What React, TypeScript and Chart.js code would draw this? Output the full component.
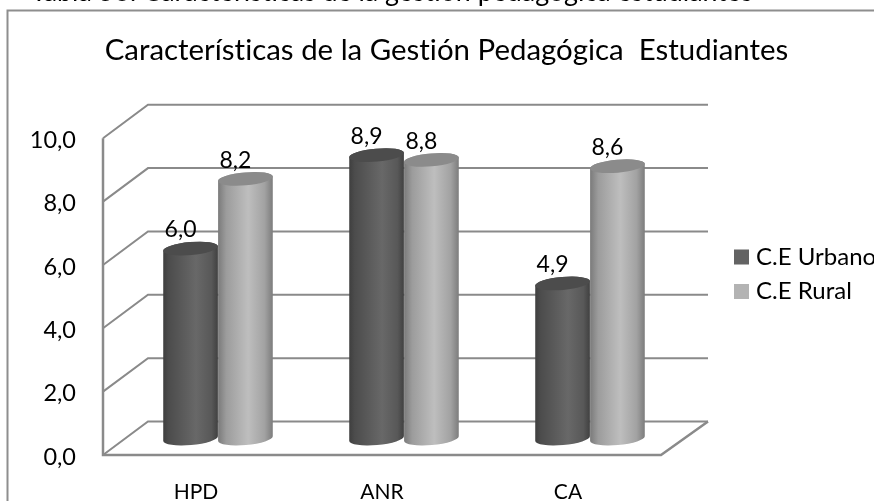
import React, { useEffect, useRef } from "react";
import { Chart, registerables } from "chart.js";

Chart.register(...registerables);

const caption = "Tabla 56: Características de la gestión pedagógica estudiantes";
const titleText = "Características de la Gestión Pedagógica  Estudiantes";
const categories = ["HPD", "ANR", "CA"];
const urbano = [6.0, 8.95, 4.9];
const rural = [8.2, 8.8, 8.6];
const urbanoLabels = ["6,0", "8,9", "4,9"];
const ruralLabels = ["8,2", "8,8", "8,6"];
const seriesNames = ["C.E Urbano", "C.E Rural"];
const legendColors = ["#636363", "#b3b3b3"];
const darkStops: [number, string][] = [[0, "#3e3e3e"], [0.1, "#4c4c4c"], [0.6, "#686868"], [0.88, "#585858"], [1, "#404040"]];
const lightStops: [number, string][] = [[0, "#7a7a7a"], [0.15, "#9c9c9c"], [0.55, "#bebebe"], [0.85, "#a2a2a2"], [1, "#7c7c7c"]];
const capColors = ["#4c4c4c", "#8b8b8b"];
const FONT = "Lato, Carlito, sans-serif";
const WALL_DX = 45;
const WALL_DY = 33.5;
const BAR_DX = 22;
const BAR_DY = 14;

const scene = {
  id: "scene",
  beforeDraw(chart: any) {
    const ctx = chart.ctx;
    ctx.letterSpacing = "0.01px";
    ctx.save();
    ctx.strokeStyle = "#8e8e8e";
    ctx.lineWidth = 2;
    ctx.beginPath();
    ctx.moveTo(7.5, 501);
    ctx.lineTo(7.5, 10.5);
    ctx.lineTo(874, 10.5);
    ctx.stroke();
    ctx.fillStyle = "#000";
    ctx.font = `26.8px ${FONT}`;
    ctx.textBaseline = "alphabetic";
    ctx.textAlign = "left";
    ctx.fillText(caption, 31, 1);
    ctx.restore();
  },
  beforeDatasetsDraw(chart: any) {
    const { ctx, chartArea, scales } = chart;
    const { left, right, bottom } = chartArea;
    ctx.save();
    ctx.strokeStyle = "#8a8a8a";
    ctx.lineWidth = 2;
    scales.y.ticks.forEach((t: any) => {
      const y = scales.y.getPixelForValue(t.value);
      ctx.beginPath();
      ctx.moveTo(left, y);
      ctx.lineTo(left + WALL_DX, y - WALL_DY);
      ctx.lineTo(right + WALL_DX + 2, y - WALL_DY);
      ctx.stroke();
    });
    ctx.lineWidth = 2.5;
    ctx.beginPath();
    ctx.moveTo(left, scales.y.top);
    ctx.lineTo(left, bottom);
    ctx.lineTo(right, bottom);
    ctx.lineTo(right + WALL_DX + 2, bottom - WALL_DY);
    ctx.stroke();
    ctx.restore();
  },
  beforeDatasetDraw(chart: any, args: any) {
    const ctx = chart.ctx;
    const stops = args.index === 0 ? darkStops : lightStops;
    const rot = (-5 * Math.PI) / 180;
    const ry = 6.5;
    args.meta.data.forEach((el: any) => {
      const cx = el.x + BAR_DX;
      const rx = el.width / 2;
      const topY = el.y - BAR_DY - 2.4;
      const baseY = el.base - BAR_DY - 2.4;
      const g = ctx.createLinearGradient(cx - rx, 0, cx + rx, 0);
      stops.forEach(([o, c]) => g.addColorStop(o, c));
      ctx.save();
      ctx.fillStyle = g;
      ctx.beginPath();
      ctx.ellipse(cx, topY, rx, ry, rot, Math.PI, 0, false);
      ctx.ellipse(cx, baseY, rx, ry, rot, 0, Math.PI, false);
      ctx.closePath();
      ctx.fill();
      ctx.fillStyle = capColors[args.index];
      ctx.beginPath();
      ctx.ellipse(cx, topY, rx, ry, rot, 0, Math.PI * 2);
      ctx.fill();
      ctx.restore();
    });
    return false;
  },
  afterDatasetsDraw(chart: any) {
    const ctx = chart.ctx;
    ctx.save();
    ctx.fillStyle = "#000";
    ctx.font = `23px ${FONT}`;
    ctx.textAlign = "center";
    ctx.textBaseline = "middle";
    [urbanoLabels, ruralLabels].forEach((labels, d) => {
      chart.getDatasetMeta(d).data.forEach((el: any, i: number) => {
        ctx.fillText(labels[i], el.x + BAR_DX - 10, el.y - BAR_DY - 21);
      });
    });
    const lx = 734;
    const ly = [257, 291.5];
    ctx.textAlign = "left";
    ctx.font = `24px ${FONT}`;
    chart.data.datasets.forEach((ds: any, d: number) => {
      ctx.fillStyle = legendColors[d];
      ctx.fillRect(lx, ly[d] - 7.5, 15, 15);
      ctx.fillStyle = "#000";
      ctx.fillText(ds.label, lx + 22, ly[d]);
    });
    ctx.restore();
  },
};

export default function App() {
  const ref = useRef<HTMLCanvasElement>(null);
  useEffect(() => {
    document.body.style.margin = "0";
    const chart = new Chart(ref.current as HTMLCanvasElement, {
      type: "bar",
      data: {
        labels: categories,
        datasets: [
          { label: seriesNames[0], data: urbano, backgroundColor: legendColors[0] },
          { label: seriesNames[1], data: rural, backgroundColor: legendColors[1] },
        ],
      },
      options: {
        responsive: false,
        animation: false,
        layout: { padding: { left: 19, top: 0, right: 0, bottom: 0 } },
        datasets: { bar: { categoryPercentage: 0.59, barPercentage: 1 } },
        plugins: {
          legend: { display: false },
          tooltip: { enabled: false },
          title: {
            display: true,
            text: titleText,
            color: "#000",
            font: { family: FONT, size: 29.4, weight: "normal" },
            padding: { top: 33, bottom: 70 },
          },
        },
        scales: {
          x: {
            grid: { display: false },
            border: { display: false },
            ticks: { color: "#000", font: { family: FONT, size: 21 }, padding: 17, maxRotation: 0 },
            afterFit(s: any) { s.height = 46; },
          },
          y: {
            min: 0,
            max: 10,
            grid: { display: false, drawTicks: false },
            border: { display: false },
            ticks: {
              stepSize: 2,
              color: "#000",
              font: { family: FONT, size: 23.5 },
              padding: 27,
              labelOffset: 2,
              callback: (v: any) => Number(v).toFixed(1).replace(".", ","),
            },
            afterFit(s: any) { s.width = 84; },
          },
          yGap: {
            position: "right",
            grid: { display: false },
            border: { display: false },
            ticks: { display: false },
            afterFit(s: any) { s.width = 213; },
          },
        },
      } as any,
      plugins: [scene],
    });
    return () => chart.destroy();
  }, []);
  return <canvas ref={ref} width={874} height={501} style={{ display: "block" }} />;
}
